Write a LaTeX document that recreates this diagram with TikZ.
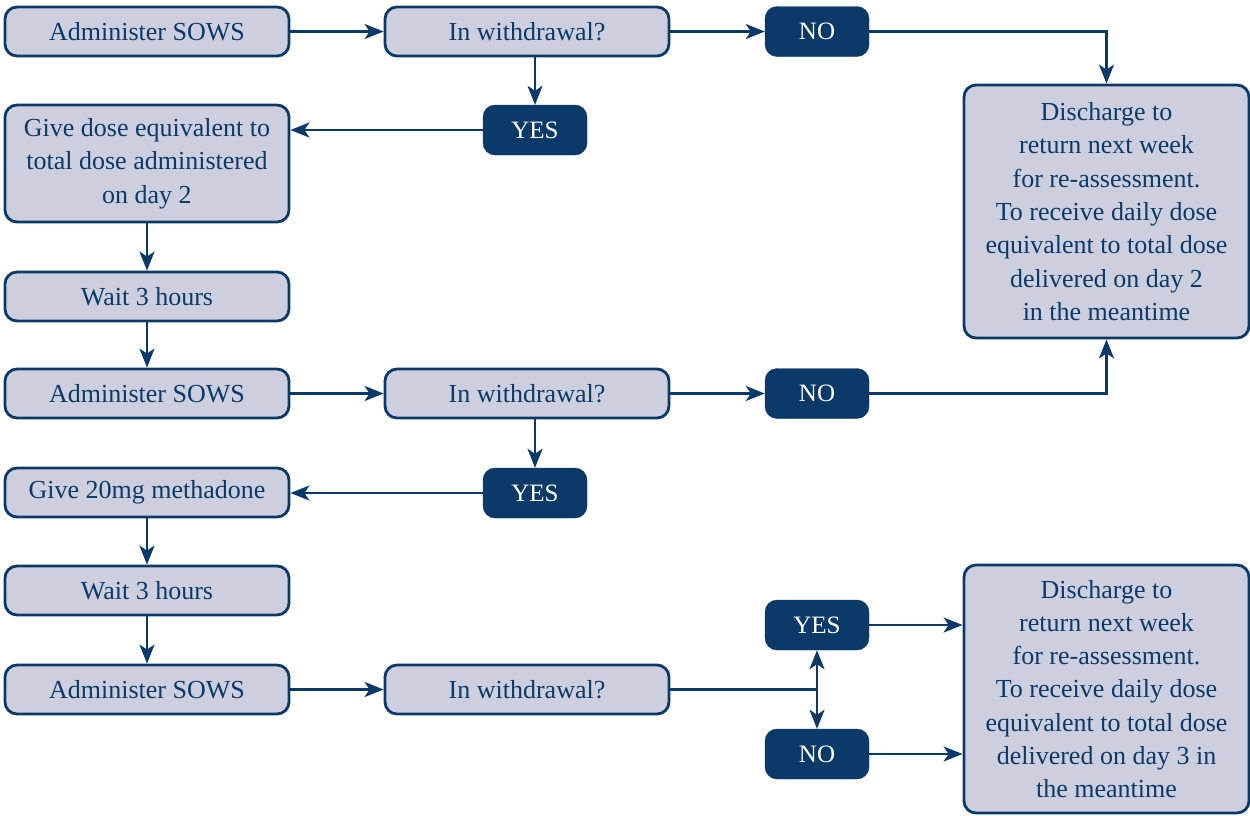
\documentclass[tikz,border=0pt]{standalone}
\usepackage{fontspec}
\setmainfont{Liberation Serif}
\usetikzlibrary{arrows.meta}
\definecolor{navy}{HTML}{0B3A68}
\definecolor{lav}{HTML}{CDCFDF}
\tikzset{
  lbox/.style={draw=navy, fill=lav, line width=2.8pt, rounded corners=12pt, text=navy,
    minimum width=284pt, inner sep=0pt, align=center,
    font=\fontsize{26}{33.3}\selectfont},
  dbox/.style={draw=navy, fill=navy, rounded corners=12pt, text=white,
    minimum width=104pt, minimum height=50pt, inner sep=0pt,
    font=\fontsize{25}{33.3}\selectfont},
  conn/.style={draw=navy, line width=2.5pt},
  arr/.style={conn, -{Stealth[length=19pt,width=15pt,inset=5pt]}}
}
\begin{document}
\begin{tikzpicture}[x=1pt,y=-1pt]
\useasboundingbox (0,0) rectangle (1250,815);
% row 1
\node[lbox, minimum height=49pt] (a1) at (147,31.5) {Administer SOWS};
\node[lbox, minimum height=49pt] (w1) at (527,31.5) {In withdrawal?};
\node[dbox] (n1) at (817,31.5) {NO};
\node[dbox] (y1) at (535,130) {YES};
\node[lbox, minimum height=117pt] (g1) at (147,163.5) {Give dose equivalent to\\total dose administered\\on day 2};
\node[lbox, minimum height=49pt] (t1) at (147,296.5) {Wait 3 hours};
\node[lbox, minimum height=49pt] (a2) at (147,393.5) {Administer SOWS};
\node[lbox, minimum height=49pt] (w2) at (527,393.5) {In withdrawal?};
\node[dbox] (n2) at (817,393.5) {NO};
\node[dbox] (y2) at (535,493) {YES};
\node[lbox, minimum height=49pt] (g2) at (147,492.5) {Give 20mg methadone};
\node[lbox, minimum height=49pt] (t2) at (147,590.5) {Wait 3 hours};
\node[lbox, minimum height=49pt] (a3) at (147,689.5) {Administer SOWS};
\node[lbox, minimum height=49pt] (w3) at (527,689.5) {In withdrawal?};
\node[dbox] (y3) at (817,625) {YES};
\node[dbox] (n3) at (817,754) {NO};
\node[lbox, minimum width=285pt, minimum height=253pt] (d1) at (1106.5,211.5) {Discharge to\\return next week\\for re-assessment.\\To receive daily dose\\equivalent to total dose\\delivered on day 2\\in the meantime};
\node[lbox, minimum width=285pt, minimum height=248pt] (d2) at (1106.5,689) {Discharge to\\return next week\\for re-assessment.\\To receive daily dose\\equivalent to total dose\\delivered on day 3 in\\the meantime};
\coordinate (j) at (817,689.5);
% connectors
\draw[arr] (a1.east) -- (w1.west);
\draw[arr] (w1.east) -- (n1.west);
\draw[arr] (n1.east) -| (d1.north);
\draw[arr] (y1.north |- w1.south) -- (y1.north);
\draw[arr] (y1.west) -- (y1.west -| g1.east);
\draw[arr] (g1.south) -- (t1.north);
\draw[arr] (t1.south) -- (a2.north);
\draw[arr] (a2.east) -- (w2.west);
\draw[arr] (w2.east) -- (n2.west);
\draw[arr] (n2.east) -| (d1.south);
\draw[arr] (y2.north |- w2.south) -- (y2.north);
\draw[arr] (y2.west) -- (y2.west -| g2.east);
\draw[arr] (g2.south) -- (t2.north);
\draw[arr] (t2.south) -- (a3.north);
\draw[arr] (a3.east) -- (w3.west);
\draw[conn] (w3.east) -- (j);
\draw[arr] (j) -- (y3.south);
\draw[arr] (j) -- (n3.north);
\draw[arr] (y3.east) -- (y3.east -| d2.west);
\draw[arr] (n3.east) -- (n3.east -| d2.west);
\end{tikzpicture}
\end{document}
